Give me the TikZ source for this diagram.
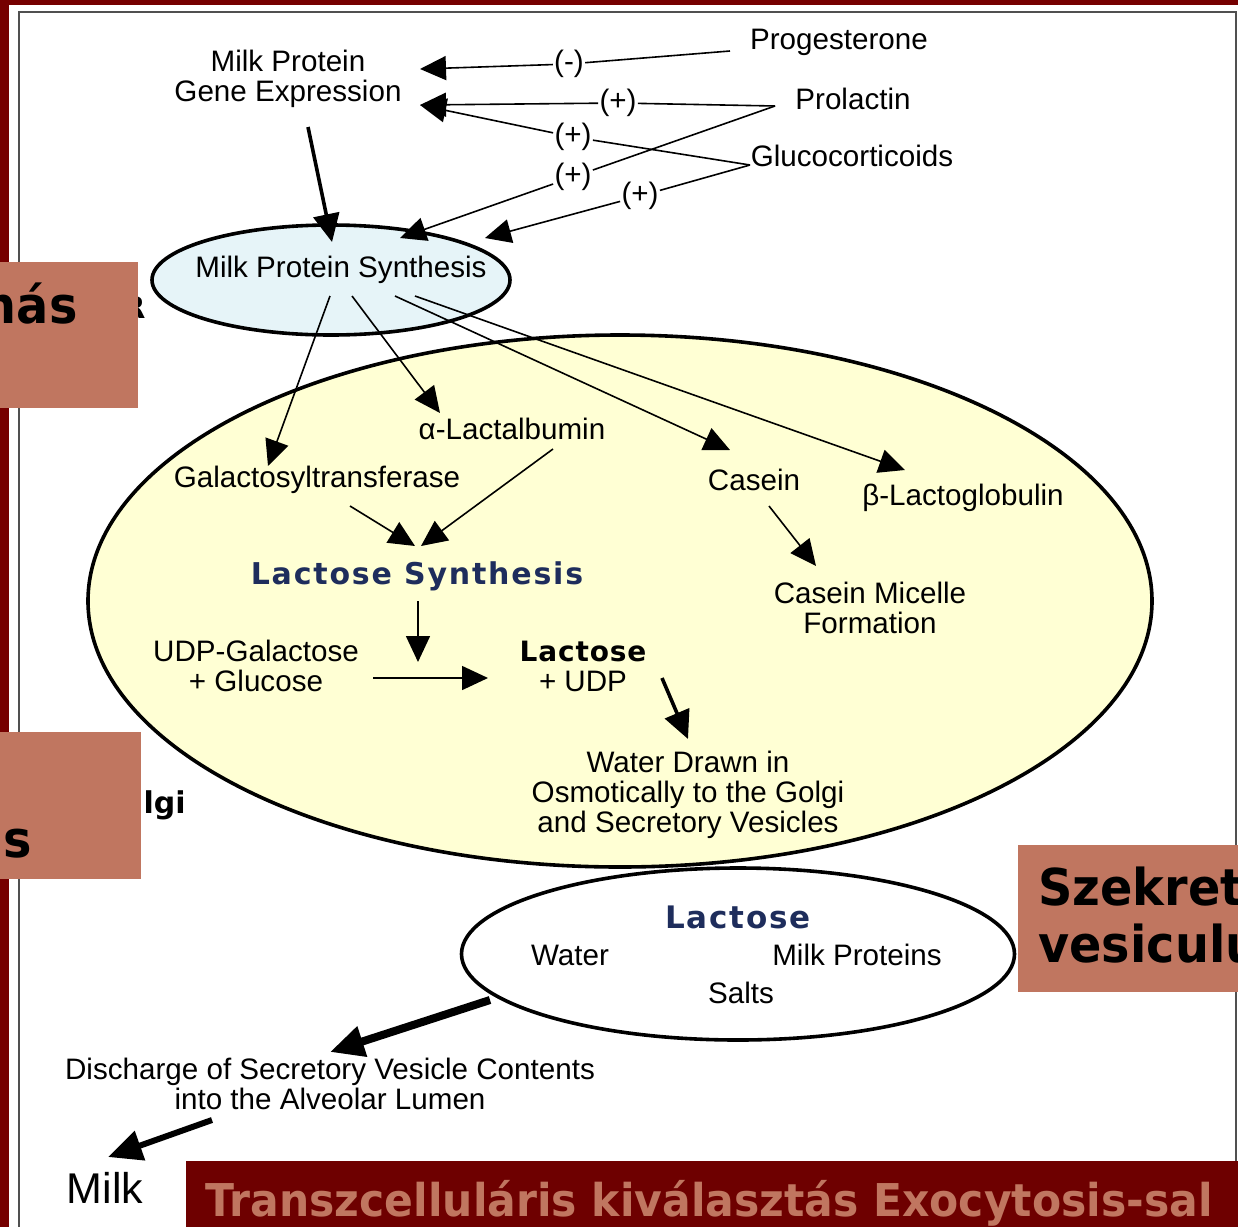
\documentclass[tikz,border=0pt]{standalone}
\usepackage{fontspec}
\setmainfont{Liberation Sans}
\newfontfamily\tahb[FakeStretch=0.94]{DejaVu Sans}
\newfontfamily\lsfont[LetterSpace=6]{DejaVu Sans}
\newfontfamily\lsfontb[LetterSpace=3]{DejaVu Sans}
\newfontfamily\dvs{DejaVu Sans}
\usetikzlibrary{arrows.meta,shapes.geometric}
\definecolor{darkred}{HTML}{760000}
\definecolor{barred}{HTML}{6E0000}
\definecolor{salmon}{HTML}{C07660}
\definecolor{lyellow}{HTML}{FFFFD4}
\definecolor{lblue}{HTML}{E6F4F8}
\definecolor{navy}{HTML}{1E2D5C}
\definecolor{framegray}{HTML}{505050}
\begin{document}
\begin{tikzpicture}[x=0.5pt,y=-0.5pt,
  lbl/.style={font=\fontsize{14.8}{15}\selectfont, align=center, inner sep=1pt},
  sgn/.style={lbl, fill=white, inner sep=0.5pt},
  tarr/.style={line width=0.8pt, -{Triangle[length=13pt,width=12pt]}},
  barr/.style={line width=1.8pt, -{Triangle[length=14pt,width=13pt]}},
  harr/.style={line width=4pt, -{Triangle[length=17pt,width=15pt]}},
  marr/.style={line width=3pt, -{Triangle[length=17pt,width=15pt]}},
  cellshape/.style={ellipse, draw, line width=1.8pt, inner sep=0pt},
  salmonbox/.style={fill=salmon, draw=none},
  boxtext/.style={font=\tahb\bfseries\fontsize{25.4}{27}\selectfont, inner sep=0pt, text=black},
]
\useasboundingbox (0,0) rectangle (1238,1227);
\clip (0,0) rectangle (1238,1227);
% background
\fill[darkred] (0,0) rectangle (1238,1227);
\fill[white] (9,5) rectangle (1238,1227);
\draw[framegray, line width=1pt] (19,1227) -- (19,12) -- (1236,12) -- (1236,1161);

% cell shapes
\node[cellshape, fill=lyellow, minimum width=532pt, minimum height=266pt] (cell) at (620,601) {};
\node[cellshape, fill=lblue, minimum width=179pt, minimum height=55pt] (syn) at (331,280) {};
\node[cellshape, fill=white, minimum width=276.5pt, minimum height=86pt] (ves) at (738,954) {};

% top texts
\node[lbl] (gene) at (288,79) {Milk Protein\\Gene Expression};
\node[lbl] (prog) at (839,42) {Progesterone};
\node[lbl] (prol) at (853,99) {Prolactin};
\node[lbl] (gluc) at (852,156) {Glucocorticoids};
\node[sgn] (s1) at (569,64) {(-)};
\node[sgn] (s2) at (618,103) {(+)};
\node[sgn] (s3) at (573,137) {(+)};
\node[sgn] (s4) at (573,177) {(+)};
\node[sgn] (s5) at (640,196) {(+)};

\coordinate (p0) at (730,51);
\coordinate (pl) at (775,106);
\coordinate (gl) at (750,165);
\coordinate (tg1) at (420,69);
\coordinate (tg2) at (420,105);
\coordinate (ts1) at (400,238);
\coordinate (ts2) at (485,238);

\draw[tarr] (p0) -- (s1) -- (tg1);
\draw[tarr] (pl) -- (s2) -- (tg2);
\draw[tarr] (pl) -- (s4) -- (ts1);
\draw[tarr] (gl) -- (s3) -- (tg2);
\draw[tarr] (gl) -- (s5) -- (ts2);

\coordinate (g0) at (308,127);
\coordinate (g1) at (332,242);
\draw[barr] (g0) -- (g1);

\node[lbl] (syntxt) at (341,270) {Milk Protein Synthesis};

% inner texts
\node[lbl] (lact) at (512,429) {α-Lactalbumin};
\node[lbl] (galt) at (317,480) {Galactosyltransferase};
\node[lbl] (cas) at (754,480) {Casein};
\node[lbl] (blg) at (963,498) {β-Lactoglobulin};
\node[lbl] (mic) at (870,608) {Casein Micelle\\Formation};
\node[font=\lsfont\bfseries\fontsize{15}{16}\selectfont, text=navy, inner sep=1pt] (ls) at (417,576) {Lactose Synthesis};
\node[lbl] (udp) at (256,666) {UDP-Galactose\\+ Glucose};
\node[lbl] (lac) at (583,666) {{\lsfontb\bfseries\fontsize{14}{15}\selectfont Lactose}\\+ UDP};
\node[lbl] (water) at (688,795) {Water Drawn in\\Osmotically to the Golgi\\and Secretory Vesicles};

% arrows from synthesis
\coordinate (a2s) at (330,296); \coordinate (a2e) at (268,466);
\coordinate (a3s) at (352,296); \coordinate (a3e) at (440,413);
\coordinate (a4s) at (395,296); \coordinate (a4e) at (730,450);
\coordinate (a5s) at (415,296); \coordinate (a5e) at (905,470);
\draw[tarr] (a2s) -- (a2e);
\draw[tarr] (a3s) -- (a3e);
\draw[tarr] (a4s) -- (a4e);
\draw[tarr] (a5s) -- (a5e);

\coordinate (a6s) at (350,506); \coordinate (a6e) at (415,546);
\coordinate (a7s) at (553,449); \coordinate (a7e) at (421,546);
\draw[tarr] (a6s) -- (a6e);
\draw[tarr] (a7s) -- (a7e);
\coordinate (a8s) at (418,601); \coordinate (a8e) at (418,662);
\draw[tarr] (a8s) -- (a8e);
\coordinate (a9s) at (373,678); \coordinate (a9e) at (488,678);
\draw[tarr] (a9s) -- (a9e);
\coordinate (a10s) at (662,678); \coordinate (a10e) at (688,739);
\draw[barr] (a10s) -- (a10e);
\coordinate (a11s) at (769,506); \coordinate (a11e) at (816,566);
\draw[tarr] (a11s) -- (a11e);

% vesicle contents
\node[font=\lsfont\bfseries\fontsize{15.5}{16}\selectfont, text=navy, inner sep=1pt] (lac2) at (738,917) {Lactose};
\node[lbl] (wat) at (570,955) {Water};
\node[lbl] (mp) at (857,955) {Milk Proteins};
\node[lbl] (salt) at (741,993) {Salts};

\node[lbl] (dis) at (330,1084) {Discharge of Secretory Vesicle Contents\\into the Alveolar Lumen};
\node[font=\fontsize{21.5}{22}\selectfont, inner sep=1pt] (milk) at (105,1188) {Milk};

\coordinate (a12s) at (490,1000); \coordinate (a12e) at (330,1052);
\draw[harr] (a12s) -- (a12e);
\coordinate (a13s) at (212,1120); \coordinate (a13e) at (108,1157);
\draw[marr] (a13s) -- (a13e);

% partially covered labels
\begin{scope}
\clip (143,760) rectangle (260,840);
\node[anchor=base east, font=\dvs\bfseries\fontsize{15}{16}\selectfont, inner sep=0pt] (golgi) at (186,813) {Golgi};
\end{scope}
\node[anchor=base east, font=\dvs\bfseries\fontsize{15}{16}\selectfont, inner sep=0pt] (er) at (146,318) {ER};

% overlay boxes
\fill[salmonbox] (0,262) rectangle (138,408);
\fill[salmonbox] (0,732) rectangle (141,879);
\fill[salmonbox] (1018,845) rectangle (1238,992);
\node[boxtext, anchor=base east] (t1) at (78,323) {nás};
\node[boxtext, anchor=base east] (t2) at (32,857) {us};
\node[boxtext, anchor=base west] (t3) at (1038,905) {Szekret};
\node[boxtext, anchor=base west] (t4) at (1038,962) {vesiculu};

% title bar
\fill[barred] (186,1161) rectangle (1238,1227);
\node[anchor=base west, font=\tahb\bfseries\fontsize{22.6}{24}\selectfont, text=salmon, inner sep=0pt] (title) at (205,1216) {Transzcelluláris kiválasztás Exocytosis-sal};
\end{tikzpicture}
\end{document}
